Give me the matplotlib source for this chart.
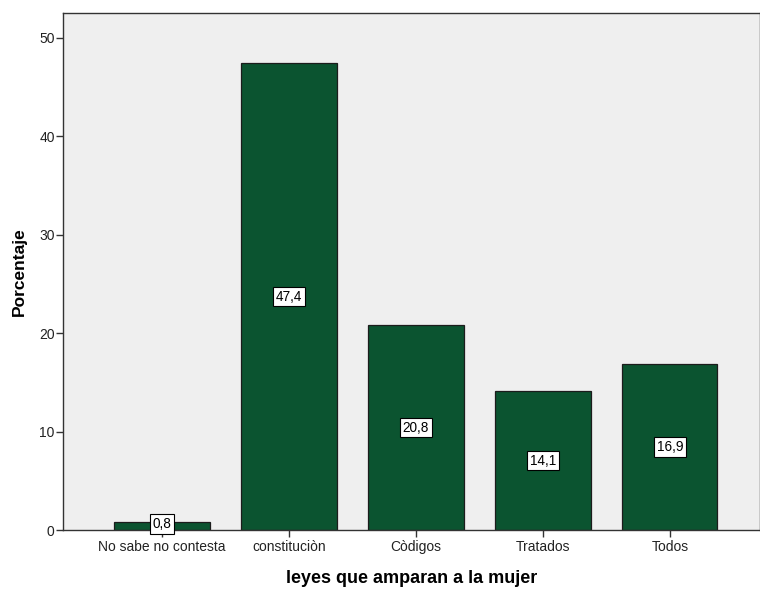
import numpy as np
import matplotlib.pyplot as plt

plt.rcParams['font.family'] = ['Liberation Sans', 'DejaVu Sans']

categorias = ['No sabe no contesta', 'constituciòn', 'Còdigos', 'Tratados', 'Todos']
porcentajes = [0.8, 47.4, 20.8, 14.1, 16.9]
etiquetas = ['0,8', '47,4', '20,8', '14,1', '16,9']

fig = plt.figure(figsize=(7.6, 5.89), dpi=100)
ax = fig.add_axes([0.083, 0.1, 0.917, 0.878])
ax.set_facecolor('#efefef')

x = np.arange(len(categorias))
bars = ax.bar(x, porcentajes, width=0.75, color='#0b5430', edgecolor='#1c1c1c', linewidth=0.9, zorder=2)

for xi, v, txt in zip(x, porcentajes, etiquetas):
    ax.text(xi, v / 2 if v > 2 else 0.6, txt, ha='center', va='center', fontsize=9.8, color='black', zorder=3,
            bbox=dict(boxstyle='square,pad=0.2', facecolor='white', edgecolor='black', linewidth=0.8))

ax.set_xlim(-0.78, 4.71)
ax.set_ylim(0, 52.5)
ax.set_yticks([0, 10, 20, 30, 40, 50])
ax.set_xticks(x)
ax.set_xticklabels(categorias)
ax.tick_params(axis='both', direction='out', length=5, width=1, color='#333333', labelsize=10, labelcolor='#222222')
ax.tick_params(axis='x', pad=2)
ax.tick_params(axis='y', pad=1)

for s in ax.spines.values():
    s.set_color('#333333')
    s.set_linewidth(1)

ax.set_ylabel('Porcentaje', fontsize=12.5, fontweight='bold', labelpad=9)
ax.set_xlabel('leyes que amparan a la mujer', fontsize=13, fontweight='bold', labelpad=12)

fig.savefig('out.png', dpi=100)
